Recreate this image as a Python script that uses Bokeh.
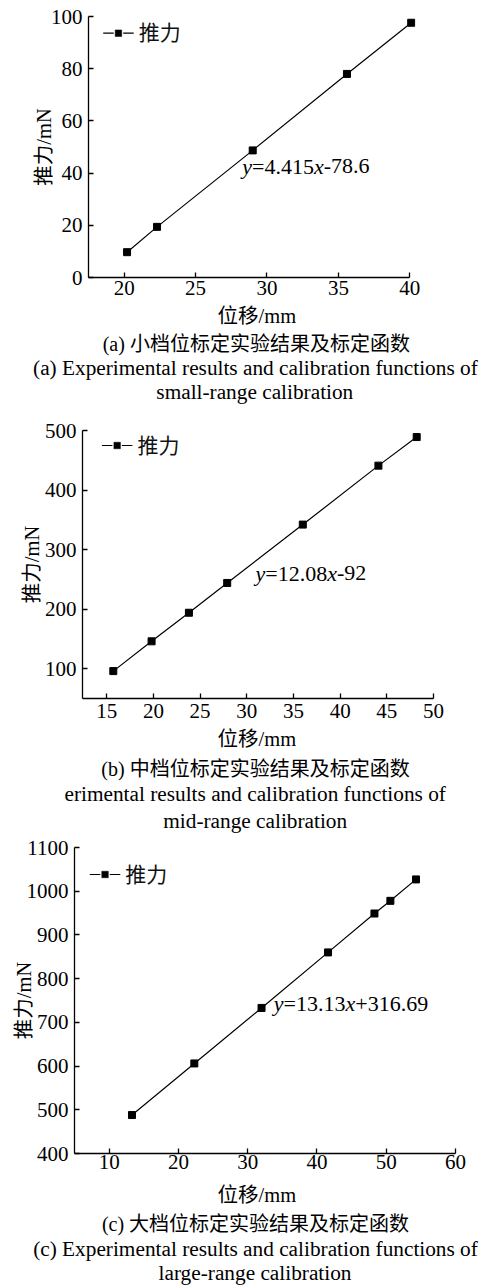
import re
from bokeh.plotting import figure
from bokeh.models import Label, FixedTicker, Range1d
from bokeh.embed import file_html
from bokeh.resources import INLINE

# ---------------- data ----------------
a_disp = [20.2, 22.3, 29.0, 35.6, 40.1]
a_force = [9.7, 19.4, 48.7, 78.0, 97.6]
a_xrange = (17.5, 40.4)
a_xbounds = (17.5, 40)
a_yrange = (0, 100)
a_xticks = [20, 25, 30, 35, 40]
a_yticks = [0, 20, 40, 60, 80, 100]
a_eq = "y=4.415x-78.6"
a_caps = ["(a) 小档位标定实验结果及标定函数",
          "(a) Experimental results and calibration functions of",
          "small-range calibration"]

b_disp = [15.7, 19.8, 23.8, 27.9, 36.0, 44.1, 48.2]
b_force = [96, 146, 194, 244, 342, 441, 489]
b_xrange = (12.4, 50)
b_xbounds = (12.4, 50)
b_yrange = (50, 500)
b_xticks = [15, 20, 25, 30, 35, 40, 45, 50]
b_yticks = [100, 200, 300, 400, 500]
b_eq = "y=12.08x-92"
b_caps = ["(b) 中档位标定实验结果及标定函数",
          "erimental results and calibration functions of",
          "mid-range calibration"]

c_disp = [13.3, 22.3, 32.0, 41.6, 48.3, 50.6, 54.3]
c_force = [488, 606, 733, 860, 949, 978, 1027]
c_xrange = (5, 60)
c_xbounds = (5, 60)
c_yrange = (400, 1100)
c_xticks = [10, 20, 30, 40, 50, 60]
c_yticks = [400, 500, 600, 700, 800, 900, 1000, 1100]
c_eq = "y=13.13x+316.69"
c_caps = ["(c) 大档位标定实验结果及标定函数",
          "(c) Experimental results and calibration functions of",
          "large-range calibration"]

series_name = "推力"
x_title = "位移/mm"
y_title = "推力/mN"

# ---------------- styles / geometry ----------------
SERIF = "Liberation Serif"
MIXED = "'Liberation Serif', 'Noto Sans CJK SC'"
W = 479

# plot figures: h, borders, tick standoff, y-title standoff; eq (x, middle) and
# legend (x start, center y) in pixels from the frame's bottom-left corner
geo_a = dict(h=304, l=88, r=64, t=16, b=27, xstand=3, ylab_stand=-7,
             eq=(153.7, 111.1), leg=(14.7, 244.3))
geo_b = dict(h=315, l=82, r=46, t=18, b=29, xstand=5, ylab_stand=-1,
             eq=(173, 125.4), leg=(19.4, 253))
geo_c = dict(h=343, l=74, r=24, t=12, b=25, xstand=1, ylab_stand=-11,
             eq=(199.3, 149.9), leg=(15.3, 279))

# text strips under each plot: height, x-title (x, middle), captions (x, middle)
txt_a = dict(h=108, xlab=(256.3, 11.6), caps=[(255.8, 39.7), (254.9, 63.8), (254.3, 87.8)])
txt_b = dict(h=108, xlab=(256.3, 11.1), caps=[(255, 41.7), (254.7, 66.8), (254.7, 93.5)])
txt_c = dict(h=108, xlab=(256.3, 16.8), caps=[(255, 45), (255, 70.8), (254.5, 94.8)])

EM = {'y': .444, 'x': .444, '=': .564, '+': .564, '-': .333, '.': .25}


def text_width(s, size):
    return sum(EM.get(ch, .5) for ch in s) * size


def make_panel(xs, ys, xr, xb, yr, xticks, yticks, eq, g):
    p = figure(width=W, height=g['h'], x_range=Range1d(*xr), y_range=Range1d(*yr),
               output_backend="svg", toolbar_location=None, title_location=None,
               min_border_left=g['l'], min_border_right=g['r'],
               min_border_top=g['t'], min_border_bottom=g['b'])
    p.outline_line_color = None
    p.grid.visible = False
    p.background_fill_color = "white"
    p.border_fill_color = "white"
    p.xaxis.ticker = FixedTicker(ticks=xticks)
    p.yaxis.ticker = FixedTicker(ticks=yticks)
    p.xaxis.bounds = xb
    for ax in p.axis:
        ax.axis_line_width = 1.3
        ax.axis_line_color = "black"
        ax.major_tick_line_width = 1.3
        ax.major_tick_line_color = "black"
        ax.major_tick_in = 5
        ax.major_tick_out = 0
        ax.minor_tick_in = 0
        ax.minor_tick_out = 0
        ax.major_label_text_font = SERIF
        ax.major_label_text_font_size = "21px"
        ax.major_label_text_color = "black"
    p.yaxis.major_label_standoff = 6
    p.xaxis.major_label_standoff = g['xstand']
    p.yaxis.axis_label = y_title
    p.yaxis.axis_label_text_font = MIXED
    p.yaxis.axis_label_text_font_size = "20.5px"
    p.yaxis.axis_label_text_font_style = "normal"
    p.yaxis.axis_label_text_color = "black"
    p.yaxis.axis_label_standoff = g['ylab_stand']

    p.line(xs, ys, line_color="black", line_width=1.2)
    p.scatter(xs, ys, marker="square", size=7, fill_color="black", line_color="black")

    # legend key "-■-" placed from frame pixel offsets
    fw = W - g['l'] - g['r']
    fh = g['h'] - g['t'] - g['b']

    def px2x(px):
        return xr[0] + px / fw * (xr[1] - xr[0])

    def py2y(py):
        return yr[0] + py / fh * (yr[1] - yr[0])

    lx, ly = g['leg']
    yk = py2y(ly)
    p.segment(x0=[px2x(lx), px2x(lx + 20)], y0=[yk, yk],
              x1=[px2x(lx + 10.5), px2x(lx + 30.5)], y1=[yk, yk],
              line_color="black", line_width=1.2)
    p.scatter([px2x(lx + 15.25)], [yk], marker="square", size=6.5,
              fill_color="black", line_color="black", line_width=0.5)
    p.add_layout(Label(x=lx + 35.5, y=ly, x_units="screen", y_units="screen",
                       text=series_name, text_align="left", text_baseline="middle",
                       text_font=MIXED, text_font_size="21px", text_color="#111111"))

    # equation with italic variables
    ex, ey = g['eq']
    off = 0
    for piece in re.findall(r'[xy]|[^xy]+', eq):
        italic = piece in ('x', 'y')
        p.add_layout(Label(x=ex + off, y=ey, x_units="screen", y_units="screen",
                           text=piece, text_align="left", text_baseline="middle",
                           text_font=SERIF, text_font_size="22px",
                           text_font_style="italic" if italic else "normal",
                           text_color="black"))
        off += text_width(piece, 22)
    return p


def make_text(caps, g):
    h = g['h']
    t = figure(width=W, height=h, x_range=Range1d(0, W), y_range=Range1d(h, 0),
               output_backend="svg", toolbar_location=None, title_location=None,
               x_axis_location=None, y_axis_location=None,
               min_border=0, min_border_left=0, min_border_right=0,
               min_border_top=0, min_border_bottom=0)
    t.outline_line_color = None
    t.grid.visible = False
    t.background_fill_color = "white"
    t.border_fill_color = "white"
    t.add_layout(Label(x=g['xlab'][0], y=g['xlab'][1], text=x_title,
                       text_align="center", text_baseline="middle",
                       text_font=MIXED, text_font_size="20.5px", text_color="black"))
    sizes = ["20px", "21.3px", "21.3px"]
    for (cx, cy), txt, sz in zip(g['caps'], caps, sizes):
        t.add_layout(Label(x=cx, y=cy, text=txt, text_align="center",
                           text_baseline="middle",
                           text_font=MIXED, text_font_size=sz, text_color="black"))
    return t


pa = make_panel(a_disp, a_force, a_xrange, a_xbounds, a_yrange, a_xticks, a_yticks, a_eq, geo_a)
ta = make_text(a_caps, txt_a)
pb = make_panel(b_disp, b_force, b_xrange, b_xbounds, b_yrange, b_xticks, b_yticks, b_eq, geo_b)
tb = make_text(b_caps, txt_b)
pc = make_panel(c_disp, c_force, c_xrange, c_xbounds, c_yrange, c_xticks, c_yticks, c_eq, geo_c)
tc = make_text(c_caps, txt_c)

open("out.html", "w").write(file_html([pa, ta, pb, tb, pc, tc], INLINE))
